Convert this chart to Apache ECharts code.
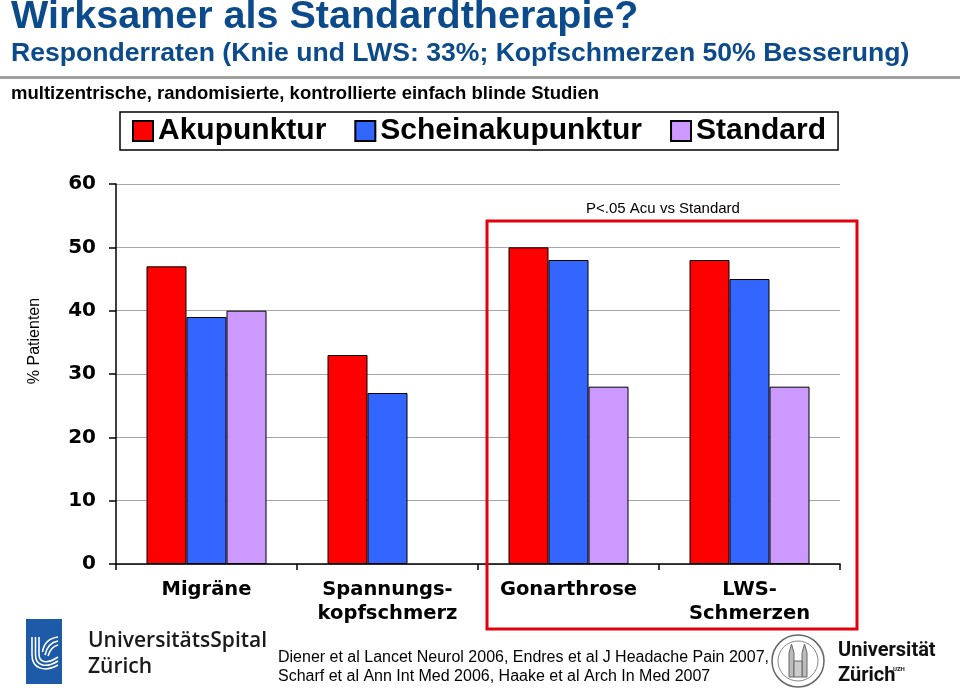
<!DOCTYPE html>
<html>
<head>
<meta charset="utf-8">
<script src="https://cdn.jsdelivr.net/npm/echarts@6/dist/echarts.min.js"></script>
<style>
html,body{margin:0;padding:0;background:#fff;}
#chart{width:960px;height:694px;}
</style>
</head>
<body>
<div id="chart"></div>
<script>
var categories = ['Migräne', 'Spannungs-\nkopfschmerz', 'Gonarthrose', 'LWS-\nSchmerzen'];
var seriesNames = ['Akupunktur', 'Scheinakupunktur', 'Standard'];
var akupunktur = [47, 33, 50, 48];
var scheinakupunktur = [39, 27, 48, 45];
var standard = [40, null, 28, 28];
var yTicks = [0, 10, 20, 30, 40, 50, 60];

var chart = echarts.init(document.getElementById('chart'), null, {renderer: 'canvas'});
var blue = '#0b4a8b';
var axisFont = '"DejaVu Sans", sans-serif';
var arial = '"Liberation Sans", Arial, sans-serif';

function wline(pts) {
  return {type: 'polyline', shape: {points: pts}, style: {fill: 'none', stroke: '#fff', lineWidth: 1.6}};
}
function wcurve(x1, y1, c1x, c1y, c2x, c2y, x2, y2) {
  return {type: 'bezierCurve', shape: {x1: x1, y1: y1, cpx1: c1x, cpy1: c1y, cpx2: c2x, cpy2: c2y, x2: x2, y2: y2},
          style: {fill: 'none', stroke: '#fff', lineWidth: 1.6}};
}

var option = {
  backgroundColor: '#ffffff',
  animation: false,
  legend: {
    data: seriesNames,
    left: 120, top: 112,
    orient: 'horizontal',
    itemWidth: 20, itemHeight: 20, itemGap: 28,
    padding: [4, 12, 4, 12],
    borderColor: '#000', borderWidth: 1.5,
    icon: 'rect',
    textStyle: {fontFamily: arial, fontWeight: 'bold', fontSize: 30, color: '#000'}
  },
  grid: {left: 116, right: 120, top: 184, bottom: 130, containLabel: false},
  xAxis: {
    type: 'category',
    data: categories,
    axisLine: {lineStyle: {color: '#000', width: 1.5}},
    axisTick: {show: true, length: 6, lineStyle: {color: '#000', width: 1.5}},
    axisLabel: {fontFamily: axisFont, fontWeight: 'bold', fontSize: 19.5, color: '#000', margin: 14, lineHeight: 24, interval: 0}
  },
  yAxis: {
    type: 'value',
    min: yTicks[0], max: yTicks[yTicks.length - 1], interval: 10,
    axisLine: {show: true, lineStyle: {color: '#000', width: 1.5}},
    axisTick: {show: true, length: 7, lineStyle: {color: '#000', width: 1.5}},
    axisLabel: {fontFamily: axisFont, fontWeight: 'bold', fontSize: 20, color: '#000', margin: 20},
    splitLine: {show: true, lineStyle: {color: '#a6a6a6', width: 1}}
  },
  series: [
    {name: seriesNames[0], type: 'bar', data: akupunktur, barWidth: 40, barGap: '0%',
     itemStyle: {color: '#ff0000', borderColor: '#000', borderWidth: 1}},
    {name: seriesNames[1], type: 'bar', data: scheinakupunktur, barWidth: 40, barGap: '0%',
     itemStyle: {color: '#3366ff', borderColor: '#000', borderWidth: 1}},
    {name: seriesNames[2], type: 'bar', data: standard, barWidth: 40, barGap: '0%',
     itemStyle: {color: '#cc99ff', borderColor: '#000', borderWidth: 1}}
  ],
  graphic: [
    {type: 'text', x: 11, y: 17.5, style: {text: 'Wirksamer als Standardtherapie?', font: 'bold 39.5px "Liberation Sans", Arial, sans-serif', fill: blue, verticalAlign: 'middle'}, z: 10},
    {type: 'text', x: 11, y: 54, style: {text: 'Responderraten (Knie und LWS: 33%; Kopfschmerzen 50% Besserung)', font: 'bold 26.6px "Liberation Sans", Arial, sans-serif', fill: blue, verticalAlign: 'middle'}},
    {type: 'line', shape: {x1: 0, y1: 77.5, x2: 960, y2: 77.5}, style: {stroke: '#a0a0a0', lineWidth: 3}},
    {type: 'text', x: 11, y: 93.5, style: {text: 'multizentrische, randomisierte, kontrollierte einfach blinde Studien', font: 'bold 18.5px "Liberation Sans", Arial, sans-serif', fill: '#000', verticalAlign: 'middle'}},
    {type: 'text', x: 34.5, y: 341, rotation: Math.PI / 2, style: {text: '% Patienten', font: '16px "Liberation Sans", Arial, sans-serif', fill: '#000', align: 'center', verticalAlign: 'middle'}},
    {type: 'text', x: 663, y: 208.5, style: {text: 'P<.05 Acu vs Standard', font: '15px "Liberation Sans", Arial, sans-serif', fill: '#000', align: 'center', verticalAlign: 'middle'}},
    {type: 'rect', shape: {x: 487, y: 221, width: 370, height: 408}, style: {fill: 'none', stroke: '#e3000f', lineWidth: 3}, z: 20},
    {type: 'text', x: 278, y: 657.5, style: {text: 'Diener et al Lancet Neurol 2006, Endres et al J Headache Pain 2007,', font: '16px "Liberation Sans", Arial, sans-serif', fill: '#000', verticalAlign: 'middle'}},
    {type: 'text', x: 278, y: 676.5, style: {text: 'Scharf et al Ann Int Med 2006, Haake et al Arch In Med 2007', font: '16px "Liberation Sans", Arial, sans-serif', fill: '#000', verticalAlign: 'middle'}},
    // USZ logo
    {type: 'rect', shape: {x: 26, y: 619, width: 36, height: 65}, style: {fill: '#1d5aa8'}},
    wline([[32, 637], [32, 655]]), wcurve(32, 655, 32, 668, 44, 673, 58, 665),
    wline([[35.5, 637], [35.5, 655]]), wcurve(35.5, 655, 35.5, 665, 45, 669, 58, 661),
    wline([[39, 637], [39, 654]]), wcurve(39, 654, 39, 662, 46, 665, 58, 657),
    wcurve(42.5, 652, 44, 642, 50, 638, 58, 637),
    wcurve(45, 655, 47, 646, 52, 642, 58, 641),
    wcurve(48, 656, 50, 649, 54, 646, 58, 645),
    {type: 'text', x: 88, y: 641, style: {text: 'UniversitätsSpital', font: '600 21px "Open Sans", sans-serif', fill: '#1a1a1a', verticalAlign: 'middle'}},
    {type: 'text', x: 88, y: 667, style: {text: 'Zürich', font: '600 21px "Open Sans", sans-serif', fill: '#1a1a1a', verticalAlign: 'middle'}},
    // UZH seal
    {type: 'circle', shape: {cx: 798, cy: 661, r: 26}, style: {fill: '#fff', stroke: '#666', lineWidth: 1.5}},
    {type: 'circle', shape: {cx: 798, cy: 661, r: 20}, style: {fill: 'none', stroke: '#888', lineWidth: 1}},
    {type: 'polygon', shape: {points: [[789, 677], [789, 653], [791.5, 644], [794, 653], [794, 677]]}, style: {fill: '#bbb', stroke: '#666', lineWidth: 1}},
    {type: 'polygon', shape: {points: [[802, 677], [802, 653], [804.5, 644], [807, 653], [807, 677]]}, style: {fill: '#bbb', stroke: '#666', lineWidth: 1}},
    {type: 'rect', shape: {x: 794, y: 661, width: 8, height: 16}, style: {fill: '#ccc', stroke: '#666', lineWidth: 1}},
    {type: 'text', x: 838, y: 651, style: {text: 'Universität', font: 'bold 20px Roboto, sans-serif', fill: '#111', verticalAlign: 'middle'}},
    {type: 'text', x: 838, y: 676, style: {text: 'Zürich', font: 'bold 20px Roboto, sans-serif', fill: '#111', verticalAlign: 'middle'}},
    {type: 'text', x: 893, y: 669, style: {text: 'UZH', font: 'bold 6px Roboto, sans-serif', fill: '#111', verticalAlign: 'middle'}}
  ]
};
chart.setOption(option);
</script>
</body>
</html>
